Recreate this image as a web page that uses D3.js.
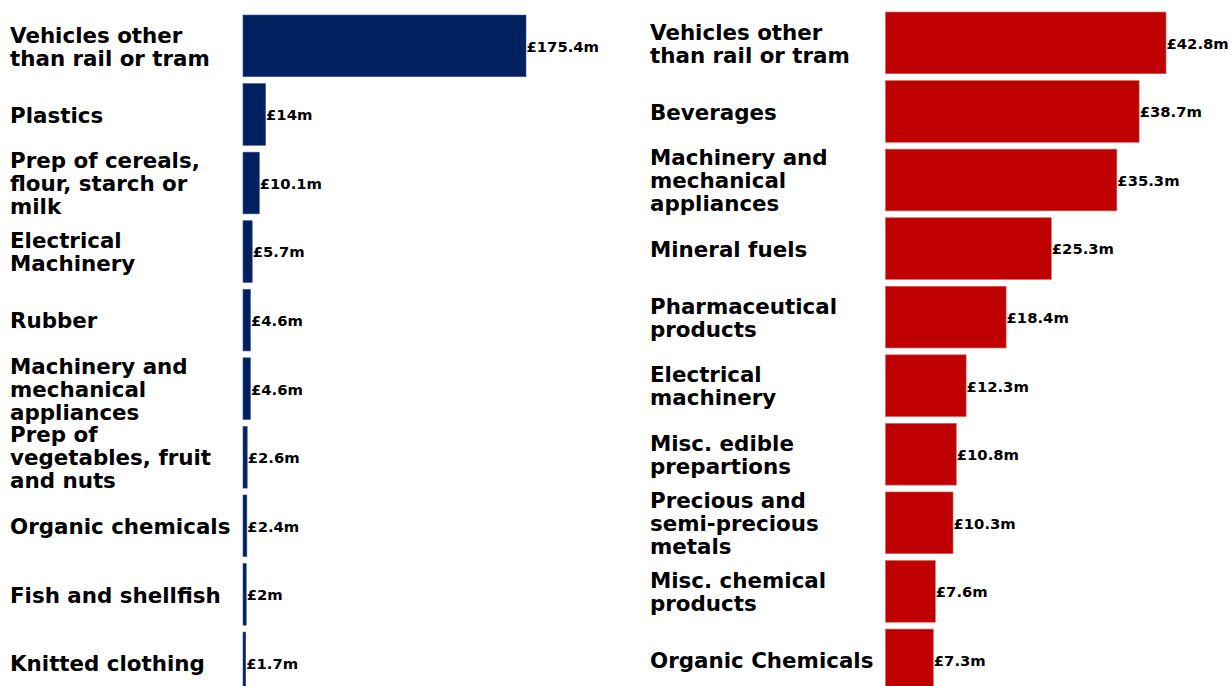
<!DOCTYPE html>
<html><head><meta charset="utf-8">
<script src="https://cdn.jsdelivr.net/npm/d3@7"></script>
<style>
html,body{margin:0;padding:0;background:#fff;overflow:hidden}
text{font-family:"DejaVu Sans",sans-serif;font-weight:bold;fill:#000}
</style></head>
<body>
<svg id="chart" width="1231" height="686"></svg>
<script>
// Left panel data
const leftCategories = [
  "Vehicles other\nthan rail or tram",
  "Plastics",
  "Prep of cereals,\nflour, starch or\nmilk",
  "Electrical\nMachinery",
  "Rubber",
  "Machinery and\nmechanical\nappliances",
  "Prep of\nvegetables, fruit\nand nuts",
  "Organic chemicals",
  "Fish and shellfish",
  "Knitted clothing"
];
const leftValues = [175.4, 14, 10.1, 5.7, 4.6, 4.6, 2.6, 2.4, 2, 1.7];
const leftLabels = ["£175.4m","£14m","£10.1m","£5.7m","£4.6m","£4.6m","£2.6m","£2.4m","£2m","£1.7m"];

// Right panel data
const rightCategories = [
  "Vehicles other\nthan rail or tram",
  "Beverages",
  "Machinery and\nmechanical\nappliances",
  "Mineral fuels",
  "Pharmaceutical\nproducts",
  "Electrical\nmachinery",
  "Misc. edible\nprepartions",
  "Precious and\nsemi-precious\nmetals",
  "Misc. chemical\nproducts",
  "Organic Chemicals"
];
const rightValues = [42.8, 38.7, 35.3, 25.3, 18.4, 12.3, 10.8, 10.3, 7.6, 7.3];
const rightLabels = ["£42.8m","£38.7m","£35.3m","£25.3m","£18.4m","£12.3m","£10.8m","£10.3m","£7.6m","£7.3m"];

const svg = d3.select("#chart");

function panel(cfg) {
  const g = svg.append("g");
  const idx = d3.range(cfg.categories.length);
  const y = d3.scaleBand().domain(idx)
    .range([cfg.y0, cfg.y0 + 685.6]).paddingInner(0.1).paddingOuter(0.05);
  const x = d3.scaleLinear().domain([0, cfg.maxVal]).range([cfg.x0, cfg.x1]);

  g.selectAll("rect").data(idx).join("rect")
    .attr("x", x(0))
    .attr("y", i => y(i))
    .attr("width", i => x(cfg.values[i]) - x(0))
    .attr("height", y.bandwidth())
    .attr("fill", cfg.color)
    .attr("stroke", cfg.edge)
    .attr("stroke-width", 0.6);

  g.selectAll("text.val").data(idx).join("text")
    .attr("class", "val")
    .attr("x", i => x(cfg.values[i]) + 0.5)
    .attr("y", i => y(i) + y.bandwidth() / 2 + 0.5)
    .attr("dy", "0.36em")
    .style("font-size", "14.8px")
    .text(i => cfg.labels[i]);

  const lab = g.selectAll("text.cat").data(idx).join("text")
    .attr("class", "cat")
    .style("font-size", "21.4px");
  lab.each(function(i) {
    const lines = cfg.categories[i].split("\n");
    const cy = y(i) + y.bandwidth() / 2 + 0.5;
    const lh = 23;
    const first = cy - (lines.length - 1) * lh / 2;
    d3.select(this).selectAll("tspan").data(lines).join("tspan")
      .attr("x", cfg.labelX)
      .attr("y", (d, k) => first + k * lh)
      .attr("dy", "0.36em")
      .text(d => d);
  });
}

panel({categories: leftCategories, values: leftValues, labels: leftLabels,
  y0: 11.6, x0: 243, x1: 526, maxVal: 175.4, color: "#002060", edge: "#3a5590", labelX: 10});
panel({categories: rightCategories, values: rightValues, labels: rightLabels,
  y0: 8.6, x0: 885.5, x1: 1166, maxVal: 42.8, color: "#c00000", edge: "#e06060", labelX: 650});
</script>
</body></html>
